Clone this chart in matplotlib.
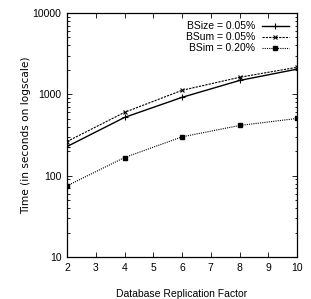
import matplotlib
matplotlib.use("Agg")
import matplotlib.pyplot as plt
from matplotlib.ticker import LogLocator, NullFormatter, FixedLocator

plt.rcParams['font.family'] = ['Liberation Sans', 'DejaVu Sans']
fs = 7.5

x = [2, 4, 6, 8, 10]
bsize = [228, 520, 918, 1480, 2040]
bsum = [263, 600, 1120, 1620, 2150]
bsim = [75, 167, 300, 414, 505]
labels = ["BSize = 0.05%", "BSum = 0.05%", "BSim = 0.20%"]

fig = plt.figure(figsize=(3.11, 2.99), dpi=100)
ax = fig.add_axes([67/311, 1-257/299, (297-67)/311, (257-13)/299])

ax.plot(x, bsize, color='black', lw=1.0, ls='-', marker='+', ms=4, mew=0.8, label=labels[0])
ax.plot(x, bsum, color='black', lw=0.8, ls=(0, (2, 1)), marker='x', ms=3, mew=0.8, label=labels[1])
ax.plot(x, bsim, color='black', lw=0.8, ls=(0, (1, 1)), marker='s', ms=2.2, label=labels[2])

ax.set_yscale('log')
ax.set_ylim(10, 10000)
ax.set_xlim(2, 10)
ax.xaxis.set_major_locator(FixedLocator(range(2, 11)))
ax.yaxis.set_minor_locator(LogLocator(base=10, subs=range(2, 10), numticks=10))
ax.yaxis.set_minor_formatter(NullFormatter())
ax.set_yticks([10, 100, 1000, 10000])
ax.set_yticklabels(['10', '100', '1000', '10000'])

ax.tick_params(which='both', direction='in', top=True, right=True, labelsize=fs, width=0.6)
ax.tick_params(which='major', length=3.5, pad=4)
ax.tick_params(which='minor', length=1.8)
for s in ax.spines.values():
    s.set_linewidth(0.9)

ax.set_xlabel('Database Replication Factor', fontsize=fs, labelpad=12)
ax.set_ylabel('Time (in seconds on logscale)', fontsize=7.6, labelpad=1,
              family=['DejaVu Sans'])

ax.legend(loc='upper right', frameon=False, markerfirst=False, fontsize=fs,
          handlelength=2.6, handletextpad=0.6, labelspacing=0.1, borderaxespad=0.4)

fig.savefig('out.png', dpi=100)
